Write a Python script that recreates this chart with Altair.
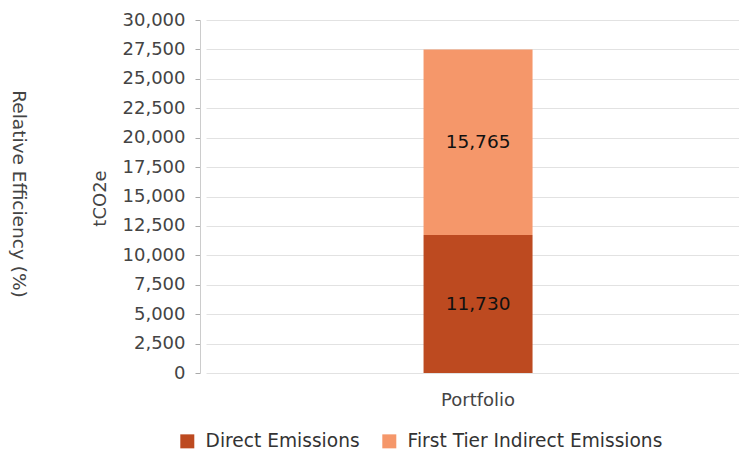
import altair as alt
import pandas as pd

categories = ["Portfolio", "Portfolio"]
series = ["Direct Emissions", "First Tier Indirect Emissions"]
series_order = [0, 1]
values = [11730, 15765]
colors = ["#bd4a20", "#f5976a"]
y_ticks = [0, 2500, 5000, 7500, 10000, 12500, 15000, 17500, 20000, 22500, 25000, 27500, 30000]

FONT = "DejaVu Sans"

df = pd.DataFrame({"cat": categories, "series": series, "ord": series_order, "value": values})

W, H = 533, 353

base = alt.Chart(df).transform_stack(
    stack="value", groupby=["cat"], as_=["y0", "y1"],
    sort=[alt.SortField("ord", order="ascending")]
).transform_calculate(mid="(datum.y0 + datum.y1) / 2")

xenc = alt.X("cat:N", title=None,
             scale=alt.Scale(paddingInner=0, paddingOuter=1, align=0.5156),
             axis=alt.Axis(labelAngle=0, domain=False, ticks=False, tickSize=0,
                           labelFontSize=18, labelColor="#444", labelFont=FONT,
                           labelPadding=18, grid=False))

yscale = alt.Scale(domain=[0, 30000], nice=False)
yaxis = alt.Axis(values=y_ticks, labelExpr="format(datum.value, ',')",
                 title="tCO2e",
                 offset=6, tickSize=5, tickColor="#aaa",
                 domainColor="#ccc", gridColor="#e2e2e2",
                 labelFontSize=18, labelColor="#444", labelFont=FONT,
                 labelPadding=10, titleFontSize=18, titleFont=FONT,
                 titleColor="#444", titleFontWeight="normal",
                 titleAngle=-90, titleBaseline="middle", titleAlign="center",
                 titleX=-100, titleY=178)

bars = base.mark_bar(size=109).encode(
    x=xenc,
    y=alt.Y("y0:Q", scale=yscale, axis=yaxis, title="tCO2e"),
    y2="y1:Q",
    color=alt.Color("series:N", scale=alt.Scale(domain=series, range=colors),
                    legend=alt.Legend(title=None, orient="none", direction="horizontal",
                                      legendX=-28, legendY=412,
                                      symbolType="square", symbolSize=196,
                                      symbolStrokeWidth=0, labelFontSize=18.6,
                                      labelFont=FONT, labelColor="#333",
                                      labelOffset=9, columnPadding=20, padding=0,
                                      labelLimit=500)),
)

labels = base.mark_text(font=FONT, fontSize=18.5, color="#111", baseline="middle").encode(
    x=alt.X("cat:N"),
    y=alt.Y("mid:Q", scale=yscale, axis=yaxis, title="tCO2e"),
    text=alt.Text("value:Q", format=","),
)

side_df = pd.DataFrame({"t": ["Relative Efficiency (%)"]})
side = alt.Chart(side_df).mark_text(font=FONT, fontSize=18.5, color="#444", angle=90,
                                    align="center", baseline="middle").encode(
    text="t:N", x=alt.value(-187), y=alt.value(174))

chart = alt.layer(bars, labels, side).properties(
    width=W, height=H,
    background="white",
    autosize=alt.AutoSizeParams(type="none"),
    padding={"left": 206, "top": 20, "right": 0, "bottom": 77},
).configure_view(stroke=None)

chart.save("out.html", embed_options={"renderer": "svg", "actions": False})
